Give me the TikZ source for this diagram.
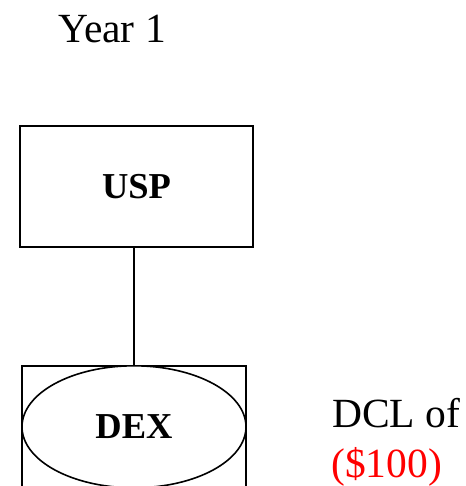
\documentclass[tikz,border=0pt]{standalone}
\usepackage{fontspec}
\setmainfont{Liberation Serif}
\usetikzlibrary{shapes.geometric}
\begin{document}
\begin{tikzpicture}[x=1pt,y=-1pt,
  boxstyle/.style={draw,line width=2pt,rectangle,inner sep=0pt},
  ovalstyle/.style={draw,line width=1.6pt,ellipse,inner sep=0pt,fill=white},
  boldlabel/.style={font=\fontsize{36.5}{40}\selectfont\bfseries},
  plainlabel/.style={font=\fontsize{41.5}{44}\selectfont,inner sep=0pt,anchor=base west}]
\useasboundingbox (0,0) rectangle (465,486);
\clip (0,0) rectangle (465,486);
\node[plainlabel] (year) at (58,43) {Year 1};
\node[boxstyle,boldlabel,minimum width=233pt,minimum height=121pt] (usp) at (136.5,186.5) {USP};
\node[boxstyle,minimum width=224pt,minimum height=150pt] (dexbox) at (134,441) {};
\node[ovalstyle,boldlabel,minimum width=224pt,minimum height=122pt,anchor=north] (dex) at (dexbox.north) {DEX};
\draw[line width=2pt] (dex.north) -- (dex.north |- usp.south);
\node[plainlabel] (dcl) at (332,427) {DCL of};
\node[plainlabel,text=red] (amt) at (331,477) {(\$100)};
\end{tikzpicture}
\end{document}
